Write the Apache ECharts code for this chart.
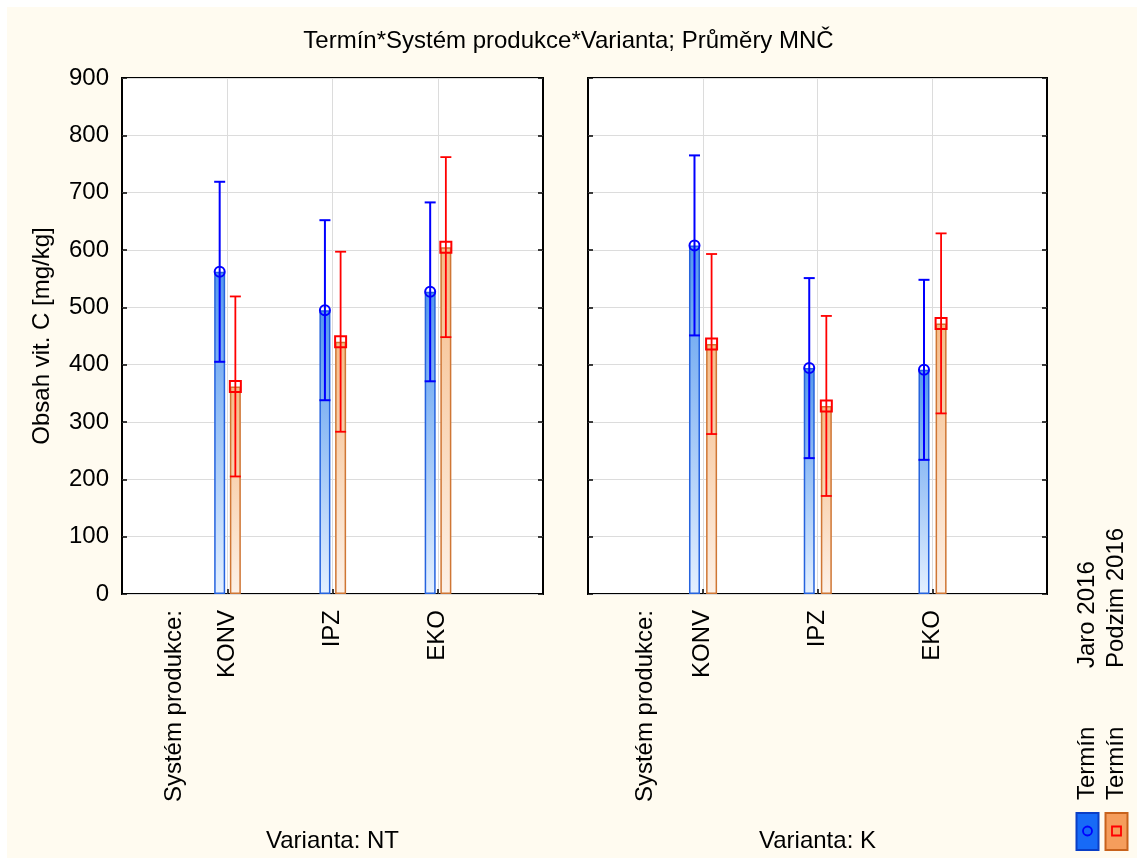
<!DOCTYPE html>
<html>
<head>
<meta charset="utf-8">
<script src="https://cdn.jsdelivr.net/npm/echarts@6/dist/echarts.min.js"></script>
<style>
  html, body { margin: 0; padding: 0; background: #fff; }
  #chart { width: 1137px; height: 858px; }
</style>
</head>
<body>
<div id="chart"></div>
<script>
// ---- texts ----
const titleText = 'Termín*Systém produkce*Varianta; Průměry MNČ';
const yAxisName = 'Obsah vit. C [mg/kg]';
const factorLabel = 'Systém produkce:';
const categories = ['KONV', 'IPZ', 'EKO'];
const variantLabels = ['Varianta: NT', 'Varianta: K'];
const legendTitle = 'Termín';
const seasons = ['Jaro 2016', 'Podzim 2016'];
const yTicks = [0, 100, 200, 300, 400, 500, 600, 700, 800, 900];

// ---- means (mg/kg) ----
const jaroNT   = [562, 495, 527];
const podzimNT = [362, 440, 605];
const jaroK    = [608, 394, 391];
const podzimK  = [436, 328, 472];

// ---- half-widths of the intervals ----
const errJaroNT   = [157, 157, 156];
const errPodzimNT = [157, 157, 157];
const errJaroK    = [157, 157, 157];
const errPodzimK  = [157, 157, 157];

// ---- layout / style ----
const FONT = '"Liberation Sans", Arial, sans-serif';
const panelBoxes = [
  { left: 122, width: 421 },
  { left: 588, width: 459 }
];
const PLOT_TOP = 78, PLOT_H = 516;
const seasonShift = [-0.072, 0.077];   // offset of each season's bar from its category, in axis units
const BAR_W = 11;
const CAP = 5.5;

const panelData = [
  { means: [jaroNT, podzimNT], errs: [errJaroNT, errPodzimNT] },
  { means: [jaroK, podzimK],   errs: [errJaroK, errPodzimK] }
];

const seasonStyle = [
  {
    barFill: new echarts.graphic.LinearGradient(0, 0, 0, 1, [
      { offset: 0, color: '#5598ee' },
      { offset: 1, color: '#e4f0ff' }
    ]),
    barBorder: '#2563de',
    mark: '#0000ff',
    symbol: 'circle',
    symbolSize: 10,
    errWidth: 2
  },
  {
    barFill: new echarts.graphic.LinearGradient(0, 0, 0, 1, [
      { offset: 0, color: '#f6bc88' },
      { offset: 1, color: '#fdf1e7' }
    ]),
    barBorder: '#cf7634',
    mark: '#ff0000',
    symbol: 'rect',
    symbolSize: 11,
    errWidth: 1.8
  }
];

function errRenderer(color, lw) {
  return function (params, api) {
    const x = api.value(0);
    const lo = api.coord([x, api.value(1)]);
    const hi = api.coord([x, api.value(2)]);
    const st = { stroke: color, lineWidth: lw };
    return {
      type: 'group',
      children: [
        { type: 'line', shape: { x1: lo[0], y1: lo[1], x2: hi[0], y2: hi[1] }, style: st },
        { type: 'line', shape: { x1: hi[0] - CAP, y1: hi[1], x2: hi[0] + CAP, y2: hi[1] }, style: st },
        { type: 'line', shape: { x1: lo[0] - CAP, y1: lo[1], x2: lo[0] + CAP, y2: lo[1] }, style: st }
      ]
    };
  };
}

const grids = [], xAxes = [], yAxes = [], series = [];
const yMin = yTicks[0], yMax = yTicks[yTicks.length - 1], yStep = yTicks[1] - yTicks[0];
const tickStyle = { show: true, inside: true, length: 5, lineStyle: { color: '#000', width: 1.5 } };

panelBoxes.forEach((box, p) => {
  grids.push({
    left: box.left, top: PLOT_TOP, width: box.width, height: PLOT_H,
    show: true, backgroundColor: '#ffffff', borderColor: '#000', borderWidth: 2,
    containLabel: false, outerBoundsMode: 'none'
  });
  xAxes.push({
    type: 'value', gridIndex: p, min: 0, max: categories.length + 1, interval: 1,
    axisLine: { show: false },
    axisTick: Object.assign({ customValues: categories.map((c, i) => i + 1) }, tickStyle),
    splitLine: { show: true, lineStyle: { color: '#dcdcdc', width: 1 } },
    axisLabel: {
      customValues: [0.5].concat(categories.map((c, i) => i + 1)),
      formatter: v => (v === 0.5 ? factorLabel : categories[Math.round(v) - 1]),
      rotate: 90, margin: 16, fontSize: 24, color: '#000', fontFamily: FONT
    },
    name: variantLabels[p], nameLocation: 'middle', nameGap: 235,
    nameTextStyle: { fontSize: 24, color: '#000', fontFamily: FONT }
  });
  yAxes.push({
    type: 'value', gridIndex: p, position: 'left', min: yMin, max: yMax, interval: yStep,
    axisLine: { show: false },
    axisTick: tickStyle,
    splitLine: { show: true, lineStyle: { color: '#dcdcdc', width: 1 } },
    axisLabel: {
      show: p === 0, margin: 13, fontSize: 24, color: '#000', fontFamily: FONT
    },
    name: p === 0 ? yAxisName : '', nameLocation: 'middle', nameGap: 68,
    nameTextStyle: { fontSize: 24, color: '#000', fontFamily: FONT }
  });
  yAxes.push({
    type: 'value', gridIndex: p, position: 'right', min: yMin, max: yMax, interval: yStep,
    axisLine: { show: false }, axisTick: tickStyle,
    splitLine: { show: false }, axisLabel: { show: false }
  });

  const d = panelData[p];
  seasons.forEach((name, s) => {
    const st = seasonStyle[s];
    const xs = categories.map((c, i) => i + 1 + seasonShift[s]);
    const means = d.means[s], errs = d.errs[s];
    series.push({
      type: 'bar', name: name, xAxisIndex: p, yAxisIndex: 2 * p,
      barWidth: BAR_W, barGap: '-100%', z: 2,
      itemStyle: { color: st.barFill, borderColor: st.barBorder, borderWidth: 1.5 },
      data: means.map((v, i) => [xs[i], v]),
      silent: true, animation: false
    });
    series.push({
      type: 'custom', name: name, xAxisIndex: p, yAxisIndex: 2 * p, z: 3,
      renderItem: errRenderer(st.mark, st.errWidth),
      encode: { x: 0, y: [1, 2] },
      data: means.map((v, i) => [xs[i], v - errs[i], v + errs[i]]),
      silent: true, animation: false
    });
    series.push({
      type: 'scatter', name: name, xAxisIndex: p, yAxisIndex: 2 * p, z: 4,
      symbol: st.symbol, symbolSize: st.symbolSize,
      itemStyle: { color: 'rgba(0,0,0,0)', borderColor: st.mark, borderWidth: 2, opacity: 1 },
      data: means.map((v, i) => [xs[i], v]),
      silent: true, animation: false
    });
  });
});

// legend drawn as rotated text and swatches, bottom right
const legendCols = [1087.5, 1116.5];
const legendGraphics = [];
seasons.forEach((name, s) => {
  const cx = legendCols[s];
  legendGraphics.push({
    type: 'text', x: cx, y: 668, rotation: Math.PI / 2,
    style: { text: name, fontSize: 24, fontFamily: FONT, fill: '#000', align: 'left', verticalAlign: 'middle' }
  });
  legendGraphics.push({
    type: 'text', x: cx, y: 800, rotation: Math.PI / 2,
    style: { text: legendTitle, fontSize: 24, fontFamily: FONT, fill: '#000', align: 'left', verticalAlign: 'middle' }
  });
});
legendGraphics.push(
  { type: 'rect', shape: { x: 1076.5, y: 813, width: 22, height: 37 },
    style: { fill: '#176af7', stroke: '#0a3ec6', lineWidth: 2 } },
  { type: 'circle', shape: { cx: 1087.5, cy: 831, r: 4.5 },
    style: { fill: 'none', stroke: '#0000ff', lineWidth: 1.8 } },
  { type: 'rect', shape: { x: 1105.5, y: 813, width: 22, height: 37 },
    style: { fill: '#f59d5c', stroke: '#c8621c', lineWidth: 2 } },
  { type: 'rect', shape: { x: 1112, y: 826.5, width: 9, height: 9 },
    style: { fill: 'none', stroke: '#ff0000', lineWidth: 1.8 } },
  // thin white margin along the top and left edges
  { type: 'rect', shape: { x: 0, y: 0, width: 1137, height: 7 }, style: { fill: '#ffffff' } },
  { type: 'rect', shape: { x: 0, y: 0, width: 7, height: 858 }, style: { fill: '#ffffff' } }
);

const chart = echarts.init(document.getElementById('chart'), null, { renderer: 'canvas' });
chart.setOption({
  animation: false,
  backgroundColor: '#fffbf0',
  title: {
    text: titleText, left: 'center', top: 29, padding: [0, 0, 0, 12],
    textStyle: { fontSize: 24, fontWeight: 'normal', color: '#000', fontFamily: FONT }
  },
  grid: grids,
  xAxis: xAxes,
  yAxis: yAxes,
  series: series,
  graphic: legendGraphics
});
</script>
</body>
</html>
